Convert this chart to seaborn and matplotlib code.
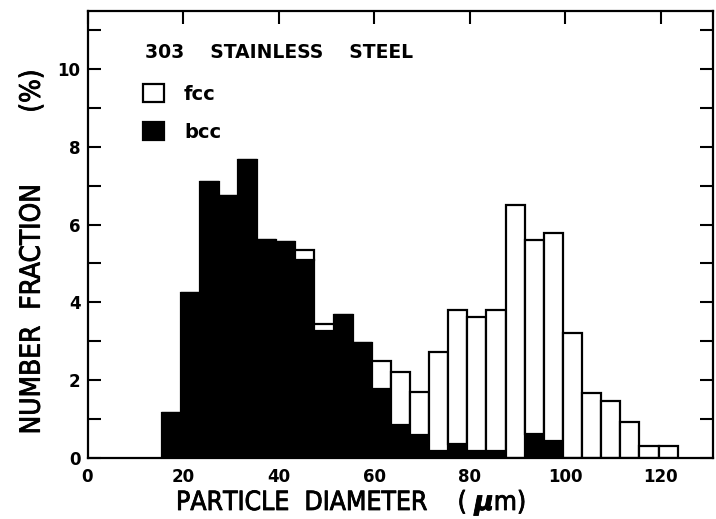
import numpy as np
import pandas as pd
import matplotlib
matplotlib.use("Agg")
import matplotlib.pyplot as plt
import matplotlib.patheffects as pe
from matplotlib.patches import Patch
from matplotlib.ticker import MultipleLocator
import seaborn as sns

# ---- data ----
bin_start = 15.5          # lower edge of first diameter bin (um)
bin_width = 4.0           # bin width (um)
bcc = [1.15, 4.25, 7.09, 6.73, 7.66, 5.59, 5.55, 5.10, 3.26, 3.67, 2.96, 1.78,
       0.85, 0.59, 0.17, 0.36, 0.19, 0.17, 0.00, 0.61, 0.44, 0.00, 0.00, 0.00,
       0.00, 0.00, 0.00]
fcc = [0.00, 0.00, 0.00, 0.00, 0.00, 0.00, 0.00, 0.25, 0.19, 0.00, 0.00, 0.70,
       1.37, 1.11, 2.56, 3.45, 3.43, 3.64, 6.49, 4.98, 5.34, 3.22, 1.66, 1.46,
       0.93, 0.30, 0.30]
x_ticks = [0, 20, 40, 60, 80, 100, 120]
y_ticks = [0, 2, 4, 6, 8, 10]
phases = ["fcc", "bcc"]

n = len(bcc)
edges = [float(e) for e in bin_start + bin_width * np.arange(n + 1)]
centers = [(edges[i] + edges[i + 1]) / 2 for i in range(n)]
df = pd.DataFrame({
    "diameter": centers + centers,
    "fraction": list(fcc) + list(bcc),
    "phase": ["fcc"] * n + ["bcc"] * n,
})

sns.set_style("ticks")
plt.rcParams["font.family"] = ["DejaVu Sans"]
plt.rcParams["font.weight"] = "bold"
for k in ["text.color", "axes.labelcolor", "xtick.color", "ytick.color"]:
    plt.rcParams[k] = "black"

fig = plt.figure(figsize=(7.16, 5.19), dpi=100)
ax = fig.add_axes([87.5 / 716, 1 - 458 / 519, (712.5 - 87.5) / 716, (458 - 10.5) / 519])

sns.histplot(data=df, x="diameter", weights="fraction", hue="phase",
             hue_order=phases, multiple="stack", bins=edges,
             palette={"fcc": "white", "bcc": "black"}, edgecolor="black",
             linewidth=1.6, alpha=1, legend=False, ax=ax)

ax.set_xlim(0, 130.8)
ax.set_ylim(0, 11.5)
ax.set_xticks(x_ticks)
ax.set_yticks(y_ticks)
ax.yaxis.set_minor_locator(MultipleLocator(1))
ax.tick_params(axis="x", which="both", direction="in", bottom=False, top=True,
               length=9.5, width=1.5, labelsize=12, pad=7)
ax.tick_params(axis="y", which="both", direction="in", left=True, right=True,
               length=9.5, width=1.5, labelsize=12, pad=5)
for s in ax.spines.values():
    s.set_linewidth(1.6)
    s.set_color("black")

thick = [pe.withStroke(linewidth=0.6, foreground="black")]
lab = dict(fontweight="normal", fontstretch="condensed", path_effects=thick)
ax.set_xlabel("PARTICLE  DIAMETER    ( $\\mu$m)", fontsize=19, **lab)
ax.set_ylabel("NUMBER  FRACTION         (%)", fontsize=20, **lab)
ax.xaxis.label.set_va("center")
ax.yaxis.label.set_va("center")
ax.xaxis.set_label_coords(0.4216, -0.1006)
ax.yaxis.set_label_coords(-0.0893, 0.46)

ax.text(12.0, 10.42, "303    STAINLESS    STEEL", fontsize=13.5,
        fontweight="bold", va="center", ha="left")

handles = [Patch(facecolor="white", edgecolor="black", linewidth=1.6),
           Patch(facecolor="black", edgecolor="black", linewidth=1.6)]
ax.legend(handles, phases, loc="upper left", bbox_to_anchor=(0.089, 0.835),
          frameon=False, prop={"size": 14, "weight": "bold"},
          handlelength=1.05, handleheight=1.05,
          labelspacing=0.95, handletextpad=1.05, borderpad=0, borderaxespad=0)

fig.savefig("out.png", dpi=100)
